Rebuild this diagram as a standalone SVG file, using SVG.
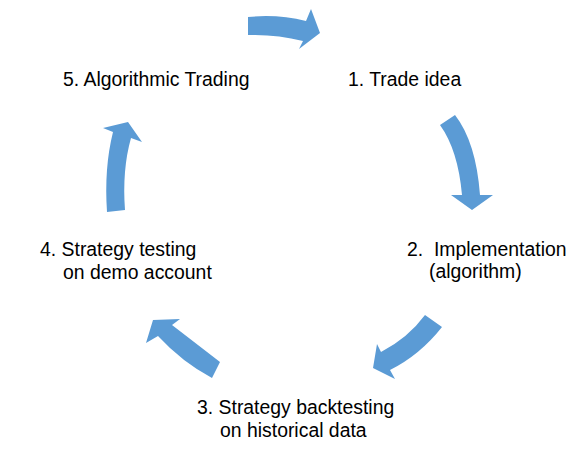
<svg xmlns="http://www.w3.org/2000/svg" width="582" height="458" viewBox="0 0 582 458">
<style>
.a{fill:#5B9BD5;stroke:none}
.t{font-family:"Liberation Sans",Arial,sans-serif;font-size:19.4px;fill:#000;white-space:pre}
</style>
<rect width="582" height="458" fill="#fff"/>
<g id="connectors">
<path class="a" d="M248,17 Q278,14 306,21 L311,9 L320,33 L299,49 L303,41 Q276,34 248,35 Z"/>
<path class="a" d="M455,115 Q476,142 480,195 L493,195 L472,210 L451,195 L462,195 Q458,150 440,125 Z"/>
<path class="a" d="M442,327 Q420,355 390,370 L395,379 L373,368 L377,344 L381,352 Q408,338 425,315 Z"/>
<path class="a" d="M212,378 Q182,362 158,336 L146,343 L153,320 L180,319 L172,325 Q198,345 220,362 Z"/>
<path class="a" d="M107,212 Q104,168 113,132 L103,128 L128,122 L142,142 L131,138 Q122,170 125,210 Z"/>
</g>
<g id="n1"><text class="t" x="348" y="86">1. Trade idea</text></g>
<g id="n2"><text class="t" x="407" y="256">2.  Implementation</text><text class="t" x="429" y="278">(algorithm)</text></g>
<g id="n3"><text class="t" x="197" y="414">3. Strategy backtesting</text><text class="t" x="220" y="437">on historical data</text></g>
<g id="n4"><text class="t" x="40" y="256">4. Strategy testing</text><text class="t" x="63" y="279">on demo account</text></g>
<g id="n5"><text class="t" x="63" y="86">5. Algorithmic Trading</text></g>
</svg>
